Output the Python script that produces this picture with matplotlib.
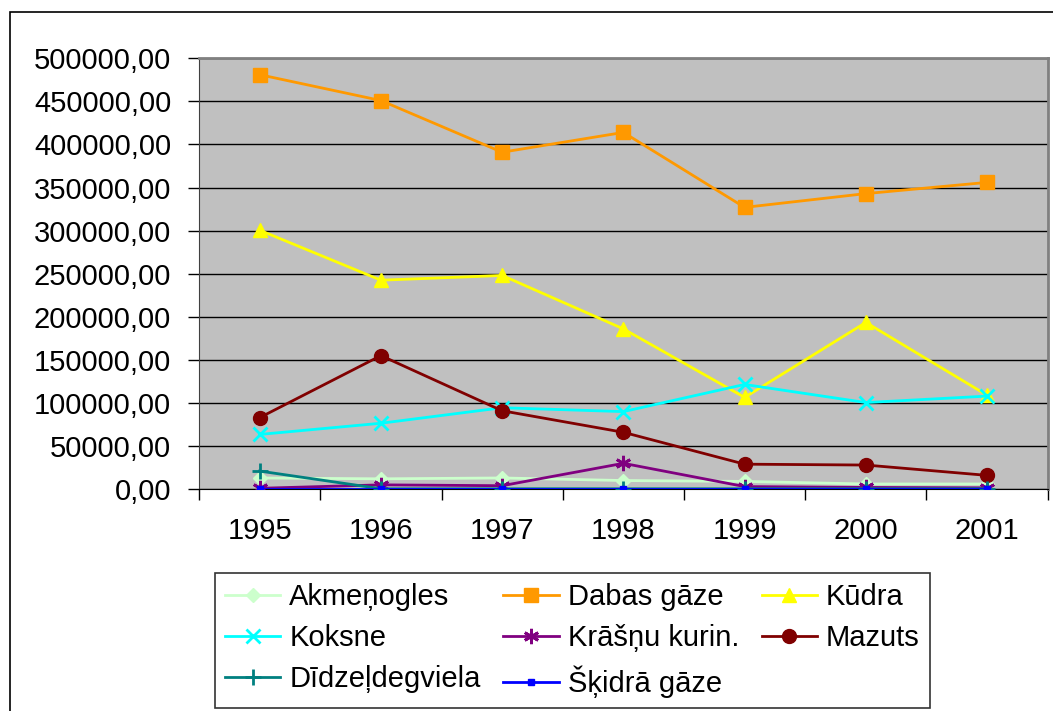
import matplotlib
matplotlib.use('Agg')
import matplotlib.pyplot as plt
from matplotlib.patches import Rectangle
from matplotlib.ticker import FuncFormatter, MultipleLocator

plt.rcParams['font.family'] = ['Liberation Sans', 'DejaVu Sans']

years = ['1995', '1996', '1997', '1998', '1999', '2000', '2001']

akmenogles = [13000, 12000, 13000, 10000, 9000, 6000, 6000]
dabas_gaze = [481000, 451000, 391000, 414000, 327000, 343000, 356000]
kudra = [300500, 242500, 248000, 186000, 106500, 193500, 109000]
koksne = [63500, 76500, 94500, 90000, 121500, 100500, 108000]
krasnu_kurin = [1000, 5000, 4000, 30000, 3000, 2000, 1500]
mazuts = [83000, 155000, 91000, 66000, 29000, 28000, 16000]
didzeldegviela = [21000, 500, 500, 500, 500, 500, 500]
skidra_gaze = [500, 500, 500, 500, 500, 500, 500]

series = [
    ('Akmeņogles', akmenogles, '#ccffcc', 'D', 7),
    ('Dabas gāze', dabas_gaze, '#ff9900', 's', 10),
    ('Kūdra', kudra, '#ffff00', '^', 10),
    ('Koksne', koksne, '#00ffff', 'x', 10),
    ('Krāšņu kurin.', krasnu_kurin, '#800080', (6, 2, 0), 11),
    ('Mazuts', mazuts, '#800000', 'o', 10),
    ('Dīdzeļdegviela', didzeldegviela, '#008080', '+', 12),
    ('Šķidrā gāze', skidra_gaze, '#0000ff', 's', 5),
]

fs = 21

fig = plt.figure(figsize=(10.53, 7.11), dpi=100)
ax = fig.add_axes([0.189, 0.312, 0.806, 0.606])
ax.set_facecolor('#c0c0c0')

x = range(len(years))
handles = []
for name, vals, color, marker, ms in series:
    h, = ax.plot(x, vals, color=color, marker=marker, markersize=ms, linewidth=2,
                 markeredgewidth=2 if marker in ('x', '+', (6, 2, 0)) else 1,
                 markeredgecolor=color, label=name, zorder=3)
    handles.append(h)

ax.set_xlim(-0.5, len(years) - 0.5)
ax.set_ylim(0, 500000)
ax.yaxis.set_major_locator(MultipleLocator(50000))
ax.yaxis.set_major_formatter(FuncFormatter(lambda v, p: f'{v:.2f}'.replace('.', ',')))
ax.set_xticks(list(x))
ax.set_xticklabels(years)
ax.set_xticks([i - 0.5 for i in range(len(years) + 1)], minor=True)
ax.tick_params(axis='x', which='major', length=0, pad=20, labelsize=fs)
ax.tick_params(axis='x', which='minor', length=8, width=1, direction='out')
ax.tick_params(axis='y', length=8, width=1, direction='out', pad=12, labelsize=fs)
ax.grid(axis='y', color='black', linewidth=1, zorder=1)
ax.set_axisbelow(True)

for side in ('top', 'right'):
    ax.spines[side].set_color('#808080')
    ax.spines[side].set_linewidth(2)
ax.spines['left'].set_color('#404040')

# legend is filled row by row in the reference
order = [0, 3, 6, 1, 4, 7, 2, 5]
leg = fig.legend([handles[i] for i in order], [series[i][0] for i in order],
                 loc='lower left', bbox_to_anchor=(0.204, 0.004, 0.679, 0.184),
                 mode='expand', ncol=3, fontsize=fs, frameon=True, fancybox=False,
                 edgecolor='black', handlelength=1.9, handletextpad=0.3,
                 borderaxespad=0, labelspacing=0.45, borderpad=0.35, columnspacing=1.0)
leg.get_frame().set_linewidth(1.2)

fig.patches.append(Rectangle((10 / 1053, -0.1), 1.2, 1 - 12 / 711 + 0.1,
                             transform=fig.transFigure, fill=False,
                             edgecolor='black', linewidth=1.2))

fig.savefig('out.png', dpi=100)
